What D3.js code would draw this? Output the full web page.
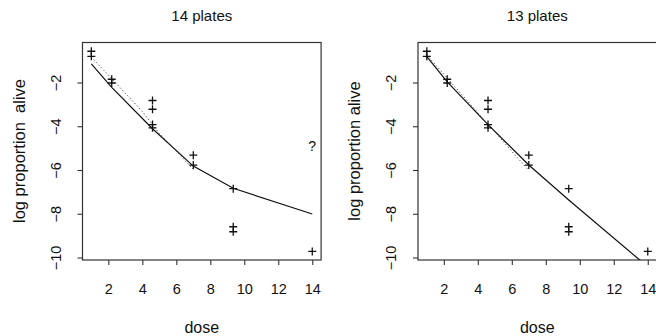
<!DOCTYPE html>
<html>
<head>
<meta charset="utf-8">
<script src="https://cdn.jsdelivr.net/npm/d3@7"></script>
<style>
  body { margin: 0; background: #fff; }
  svg { display: block; }
  text { font-family: "Liberation Sans", Arial, sans-serif; fill: #111; }
</style>
</head>
<body>
<div id="chart"></div>
<script>
// observed plates: dose and log proportion alive
const doses  = [1, 1, 2.2, 2.2, 4.6, 4.6, 4.6, 4.6, 7, 7, 9.35, 9.35, 9.35, 14];
const logAlive = [-0.55, -0.78, -1.83, -2.0, -2.8, -3.2, -3.9, -4.05, -5.3, -5.75, -6.83, -8.57, -8.8, -9.7];

// questionable plate (only in the 14 plates panel)
const qDose = 14, qValue = -4.9;

// fitted curves (solid)
const fitDose = [1, 2.2, 4.6, 7, 9.35, 14];
const fit14 = [-1.13, -2.2, -4.09, -5.8, -6.81, -7.99];
const fit13 = [-0.8, -1.95, -3.9, -5.75, -7.35, -10.4];

// dotted curves
const dotDose14 = [1, 2.5, 4.0, 5.0, 7];
const dot14 = [-0.82, -2.05, -3.3, -4.3, -5.95];
const dotDose13 = [1, 7];
const dot13 = [-0.72, -6.0];

const xTicks = [2, 4, 6, 8, 10, 12, 14];
const yTicks = [-2, -4, -6, -8, -10];

const W = 656, H = 336;
const svg = d3.select("#chart").append("svg")
    .attr("width", W)
    .attr("height", H);

const defs = svg.append("defs");

function drawPanel(id, left, title, fit, dotX, dot, withQ, ylab) {
    const x = d3.scaleLinear().domain([0.48, 14.52]).range([left, left + 238.6]);
    const y = d3.scaleLinear().domain([-10.09, -0.15]).range([260, 42.5]);
    const g = svg.append("g");

    defs.append("clipPath").attr("id", "clip" + id)
        .append("rect")
        .attr("x", x.range()[0]).attr("y", y.range()[1])
        .attr("width", x.range()[1] - x.range()[0])
        .attr("height", y.range()[0] - y.range()[1]);

    // box
    g.append("rect")
        .attr("x", x.range()[0]).attr("y", y.range()[1])
        .attr("width", x.range()[1] - x.range()[0])
        .attr("height", y.range()[0] - y.range()[1])
        .attr("fill", "none")
        .attr("stroke", "#333")
        .attr("stroke-width", 1.2);

    // axes
    const xa = g.append("g")
        .attr("transform", `translate(0,${y.range()[0]})`)
        .call(d3.axisBottom(x).tickValues(xTicks).tickSize(5).tickPadding(19));
    const ya = g.append("g")
        .attr("transform", `translate(${x.range()[0]},0)`)
        .call(d3.axisLeft(y).tickValues(yTicks).tickSize(5).tickFormat(d3.format("d")));
    [xa, ya].forEach(a => {
        a.select(".domain").remove();
        a.selectAll("line").attr("stroke", "#333").attr("stroke-width", 1.1);
    });
    xa.selectAll("text")
        .style("font-size", "14.5px")
        .style("font-family", "Liberation Sans, Arial, sans-serif")
        .attr("fill", "#111");
    ya.selectAll("text")
        .style("font-size", "14.5px")
        .style("font-family", "Liberation Sans, Arial, sans-serif")
        .attr("fill", "#111")
        .attr("x", null).attr("dy", null)
        .attr("text-anchor", "middle")
        .attr("dominant-baseline", "central")
        .attr("transform", d => `translate(-27,${y(d)}) rotate(-90)`)
        .attr("y", 0);
    ya.selectAll(".tick").attr("transform", null);
    ya.selectAll(".tick line")
        .attr("y1", d => y(d)).attr("y2", d => y(d));

    // titles
    const cx = (x.range()[0] + x.range()[1]) / 2;
    g.append("text")
        .attr("x", cx).attr("y", 21)
        .attr("text-anchor", "middle")
        .style("font-size", "15px")
        .text(title);
    g.append("text")
        .attr("x", cx).attr("y", 333)
        .attr("text-anchor", "middle")
        .style("font-size", "16px")
        .text("dose");
    g.append("text")
        .attr("transform", `translate(${x.range()[0] - 58},151) rotate(-90)`)
        .attr("text-anchor", "middle")
        .style("font-size", "16.5px")
        .text(ylab);

    const plot = g.append("g").attr("clip-path", `url(#clip${id})`);

    const line = d3.line().x(d => x(d[0])).y(d => y(d[1]));

    plot.append("path")
        .datum(fitDose.map((d, i) => [d, fit[i]]))
        .attr("fill", "none")
        .attr("stroke", "#111")
        .attr("stroke-width", 1.2)
        .attr("d", line);

    plot.append("path")
        .datum(dotX.map((d, i) => [d, dot[i]]))
        .attr("fill", "none")
        .attr("stroke", "#444")
        .attr("stroke-width", 1)
        .attr("stroke-dasharray", "1.2,2.3")
        .attr("d", line);

    // plus markers
    g.selectAll(".pt")
        .data(doses.map((d, i) => [d, logAlive[i]]))
        .join("path")
        .attr("class", "pt")
        .attr("transform", d => `translate(${x(d[0])},${y(d[1])})`)
        .attr("d", "M-4,0H4M0,-4V4")
        .attr("stroke", "#111")
        .attr("stroke-width", 1.3)
        .attr("fill", "none");

    if (withQ) {
        g.append("text")
            .attr("x", x(qDose)).attr("y", y(qValue))
            .attr("text-anchor", "middle")
            .attr("dominant-baseline", "central")
            .style("font-size", "14px")
            .text("?");
    }
}

drawPanel("a", 82.5, "14 plates", fit14, dotDose14, dot14, true, "log proportion\u00a0\u00a0alive");
drawPanel("b", 418, "13 plates", fit13, dotDose13, dot13, false, "log proportion alive");
</script>
</body>
</html>
